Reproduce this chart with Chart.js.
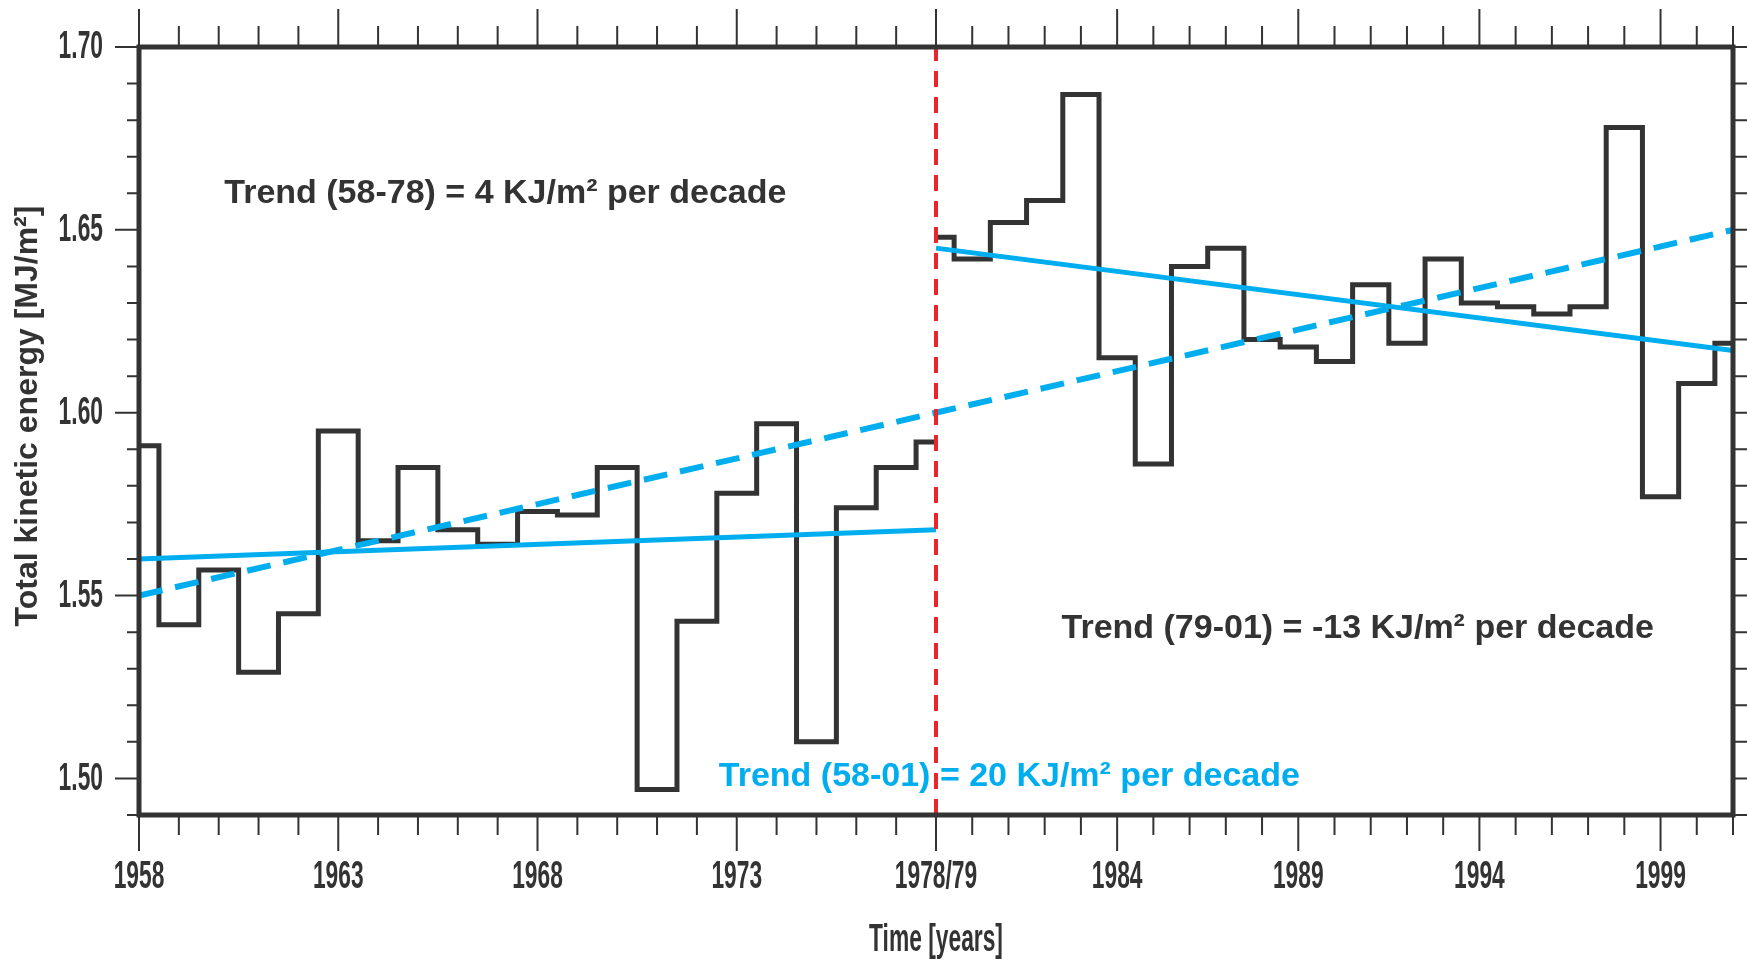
<!DOCTYPE html>
<html>
<head>
<meta charset="utf-8">
<script src="https://cdn.jsdelivr.net/npm/chart.js@4.4.1/dist/chart.umd.min.js"></script>
<style>
  html, body { margin: 0; padding: 0; background: #fff; }
  #wrap { width: 1747px; height: 964px; }
</style>
</head>
<body>
<div id="wrap"><canvas id="chartTke" width="1747" height="964"></canvas></div>
<script>
// yearly total kinetic energy [MJ/m2]
const years5878 = [1958, 1959, 1960, 1961, 1962, 1963, 1964, 1965, 1966, 1967, 1968,
  1969, 1970, 1971, 1972, 1973, 1974, 1975, 1976, 1977, 1978];
const tke5878 = [1.591, 1.542, 1.557, 1.529, 1.545, 1.595, 1.565, 1.585, 1.568, 1.564, 1.573,
  1.572, 1.585, 1.497, 1.543, 1.578, 1.597, 1.510, 1.574, 1.585, 1.592];

const years7901 = [1979, 1980, 1981, 1982, 1983, 1984, 1985, 1986, 1987, 1988, 1989, 1990,
  1991, 1992, 1993, 1994, 1995, 1996, 1997, 1998, 1999, 2000, 2001];
const tke7901 = [1.648, 1.642, 1.652, 1.658, 1.687, 1.615, 1.586, 1.640, 1.645, 1.620, 1.618, 1.614,
  1.635, 1.619, 1.642, 1.630, 1.629, 1.627, 1.629, 1.678, 1.577, 1.608, 1.619];

// trend lines, start and end
const trendYears5878 = [1958, 1978];
const trend5878 = [1.560, 1.568];
const trendYears7901 = [1979, 2001];
const trend7901 = [1.645, 1.617];
const trendYears5801 = [1958, 2001];
const trend5801 = [1.550, 1.650];

const xTickYears = [1958, 1963, 1968, 1973, 1978, 1984, 1989, 1994, 1999];
const xTickLabels = ["1958", "1963", "1968", "1973", "1978/79", "1984", "1989", "1994", "1999"];
const yTickValues = [1.50, 1.55, 1.60, 1.65, 1.70];
const yTickLabels = ["1.50", "1.55", "1.60", "1.65", "1.70"];

const yMin = 1.49, yMax = 1.70;
const breakYear = 1978;

const note5878 = "Trend (58-78) = 4 KJ/m\u00B2 per decade";
const note7901 = "Trend (79-01) = -13 KJ/m\u00B2 per decade";
const note5801 = "Trend (58-01) = 20 KJ/m\u00B2 per decade";

const dark = "#333333";
const cyan = "#00aeef";
const sans = "'Liberation Sans', Arial, sans-serif";

// both periods get half of the axis each (21 vs 23 years)
function pos(year) {
  if (year <= breakYear) return year - 1958;
  return 20 + (year - 1979) * 20 / 22;
}

const pts = (xs, ys) => xs.map((yr, i) => ({ x: pos(yr), y: ys[i] }));

// the axis labels in the figure use a very narrow font; squeeze a normal one
function narrowText(ctx, text, x, y, align) {
  ctx.save();
  ctx.translate(x, y);
  ctx.scale(0.6, 1);
  ctx.textAlign = align;
  ctx.fillText(text, 0, 0);
  ctx.restore();
}

const frame = {
  id: "frame",
  beforeDatasetsDraw(chart) {
    const { ctx, scales: { x, y } } = chart;
    ctx.save();
    ctx.font = "bold 34px " + sans;
    ctx.textBaseline = "middle";
    ctx.textAlign = "left";
    ctx.fillStyle = dark;
    ctx.fillText(note5878, x.getPixelForValue(2.14), y.getPixelForValue(1.660));
    ctx.fillText(note7901, x.getPixelForValue(23.15), y.getPixelForValue(1.541));
    ctx.fillStyle = cyan;
    ctx.fillText(note5801, x.getPixelForValue(14.55), y.getPixelForValue(1.5005));
    ctx.restore();
  },
  afterDatasetsDraw(chart) {
    const { ctx, chartArea: a, scales: { x, y } } = chart;
    ctx.save();
    ctx.strokeStyle = dark;
    ctx.lineWidth = 2;
    ctx.beginPath();
    years5878.concat(years7901).forEach(yr => {
      const px = x.getPixelForValue(pos(yr));
      const major = xTickYears.includes(yr) || yr === breakYear + 1;
      ctx.moveTo(px, a.top);
      ctx.lineTo(px, a.top - (major ? 38 : 21));
      ctx.moveTo(px, a.bottom);
      ctx.lineTo(px, a.bottom + (major ? 36 : 20));
    });
    for (let i = 149; i <= 170; i++) {
      const py = y.getPixelForValue(i / 100);
      const major = i % 5 === 0;
      ctx.moveTo(a.left, py);
      ctx.lineTo(a.left - (major ? 24 : 12), py);
      ctx.moveTo(a.right, py);
      ctx.lineTo(a.right + 20, py);
    }
    ctx.stroke();
    ctx.lineWidth = 5;
    ctx.strokeRect(a.left, a.top, a.right - a.left, a.bottom - a.top);

    // tick labels and x title
    ctx.fillStyle = dark;
    ctx.font = "bold 38px " + sans;
    ctx.textBaseline = "middle";
    yTickValues.forEach((v, i) => narrowText(ctx, yTickLabels[i], a.left - 36, y.getPixelForValue(v) + 1, "right"));
    xTickYears.forEach((yr, i) => narrowText(ctx, xTickLabels[i], x.getPixelForValue(pos(yr)), a.bottom + 63, "center"));
    narrowText(ctx, "Time [years]", (a.left + a.right) / 2, a.bottom + 126, "center");

    // y axis title
    ctx.translate(28, 416);
    ctx.rotate(-Math.PI / 2);
    ctx.font = "bold 32px " + sans;
    ctx.textAlign = "center";
    ctx.fillText("Total kinetic energy [MJ/m\u00B2]", 0, 0);
    ctx.restore();
  }
};

document.addEventListener("DOMContentLoaded", () => {
  const ctx = document.getElementById("chartTke");
  new Chart(ctx, {
    type: "line",
    data: {
      datasets: [
        {
          label: "TKE 1958-1978",
          data: pts(years5878, tke5878),
          borderColor: dark, borderWidth: 5, stepped: "middle",
          pointRadius: 0, borderJoinStyle: "miter", order: 5
        },
        {
          label: "TKE 1979-2001",
          data: pts(years7901, tke7901),
          borderColor: dark, borderWidth: 5, stepped: "middle",
          pointRadius: 0, borderJoinStyle: "miter", order: 5
        },
        {
          label: "Trend 58-78",
          data: pts(trendYears5878, trend5878),
          borderColor: cyan, borderWidth: 5, pointRadius: 0, order: 3
        },
        {
          label: "Trend 79-01",
          data: pts(trendYears7901, trend7901),
          borderColor: cyan, borderWidth: 5, pointRadius: 0, order: 3
        },
        {
          label: "Trend 58-01",
          data: pts(trendYears5801, trend5801),
          borderColor: cyan, borderWidth: 6, borderDash: [24, 13], pointRadius: 0, order: 2
        },
        {
          label: "break",
          data: [{ x: pos(breakYear), y: yMin }, { x: pos(breakYear), y: yMax }],
          borderColor: "#e8262b", borderWidth: 4, borderDash: [16, 10], pointRadius: 0, order: 1
        }
      ]
    },
    options: {
      responsive: false,
      animation: false,
      layout: { padding: { left: 0, right: 14, top: 47, bottom: 0 } },
      plugins: { legend: { display: false }, tooltip: { enabled: false } },
      scales: {
        x: {
          type: "linear", min: 0, max: 40,
          afterBuildTicks: s => { s.ticks = xTickYears.map(yr => ({ value: pos(yr) })); },
          afterFit: s => { s.height = 149; },
          grid: { display: false, drawTicks: false },
          border: { display: false },
          ticks: { display: false }
        },
        y: {
          min: yMin, max: yMax,
          afterBuildTicks: s => { s.ticks = yTickValues.map(v => ({ value: v })); },
          afterFit: s => { s.width = 139; },
          grid: { display: false, drawTicks: false },
          border: { display: false },
          ticks: { display: false }
        }
      }
    },
    plugins: [frame]
  });
});
</script>
</body>
</html>
